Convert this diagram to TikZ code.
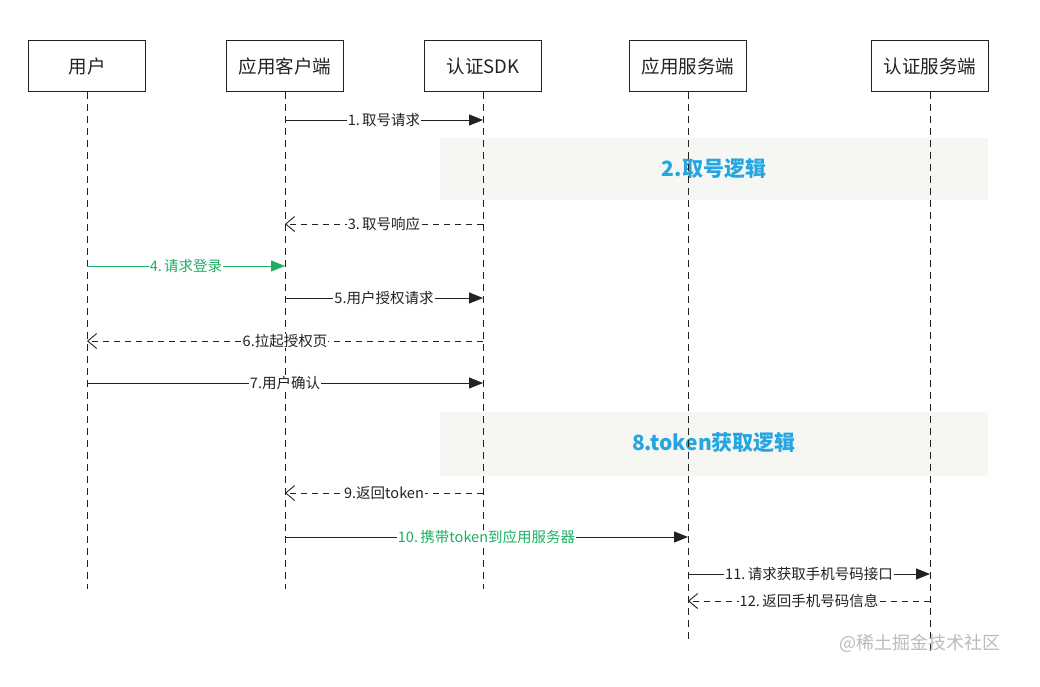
\documentclass[tikz,border=0pt]{standalone}
\usepackage{fontspec}
\setmainfont{Noto Sans CJK SC}
\usetikzlibrary{arrows.meta}
\definecolor{msggreen}{HTML}{1DAF62}
\definecolor{bandblue}{HTML}{25A6E2}
\definecolor{bandfill}{HTML}{F6F6F2}
\definecolor{ink}{HTML}{222222}
\definecolor{wm}{HTML}{BBBBBB}
\tikzset{
  actor/.style={draw=ink, line width=0.9pt, minimum width=117pt, minimum height=51pt, inner sep=0pt, font=\fontsize{18.5}{20}\selectfont, text=ink},
  life/.style={draw=ink, line width=0.9pt, dash pattern=on 7pt off 5pt},
  msg/.style={draw=ink, line width=1pt, -{Triangle[length=14pt,width=11pt]}},
  reply/.style={draw=ink, line width=1pt, dash pattern=on 6pt off 5pt, -{Straight Barb[length=9pt,width=15pt,line width=0.9pt]}},
  greenmsg/.style={draw=msggreen, line width=1pt, -{Triangle[length=14pt,width=11pt]}},
  lbl/.style={fill=white, inner xsep=1pt, inner ysep=0pt, font=\fontsize{14.5}{16}\selectfont, text=ink},
  glbl/.style={lbl, text=msggreen},
  band/.style={fill=bandfill, draw=none},
  bandtext/.style={font=\fontsize{21}{24}\selectfont\bfseries, text=bandblue}
}
\begin{document}
\begin{tikzpicture}[x=1pt,y=-1pt]
\useasboundingbox[fill=white] (0,0) rectangle (1040,686);

% participants
\node[actor] (user)   at (87,66)  {用户};
\node[actor] (client) at (285,66) {应用客户端};
\node[actor] (sdk)    at (483,66) {认证SDK};
\node[actor] (server) at (688,66) {应用服务端};
\node[actor] (auth)   at (930,66) {认证服务端};

% bands
\node[band, minimum width=548pt, minimum height=62pt, inner sep=0pt] (band1) at (714,169) {};
\node[bandtext] (band1t) at (714,169) {2.取号逻辑};
\node[band, minimum width=548pt, minimum height=64pt, inner sep=0pt] (band2) at (714,444) {};
\node[bandtext] (band2t) at (714,443) {8.token获取逻辑};

% lifeline ends
\coordinate (userEnd)   at (87,589);
\coordinate (clientEnd) at (285,589);
\coordinate (sdkEnd)    at (483,589);
\coordinate (serverEnd) at (688,643);
\coordinate (authEnd)   at (930,653);
\draw[life] (user.south)   -- (userEnd);
\draw[life] (client.south) -- (clientEnd);
\draw[life] (sdk.south)    -- (sdkEnd);
\draw[life] (server.south) -- (serverEnd);
\draw[life] (auth.south)   -- (authEnd);

% messages
\draw[msg] (client.south |- 0,120) -- node[lbl] {1.\,取号请求} (sdk.south |- 0,120);
\draw[reply] (sdk.south |- 0,224) -- node[lbl] {3.\,取号响应} (client.south |- 0,224);
\draw[greenmsg] (user.south |- 0,266) -- node[glbl] {4.\,请求登录} (client.south |- 0,266);
\draw[msg] (client.south |- 0,298) -- node[lbl] {5.用户授权请求} (sdk.south |- 0,298);
\draw[reply] (sdk.south |- 0,341) -- node[lbl] {6.拉起授权页} (user.south |- 0,341);
\draw[msg] (user.south |- 0,383) -- node[lbl] {7.用户确认} (sdk.south |- 0,383);
\draw[reply] (sdk.south |- 0,493) -- node[lbl] {9.返回token} (client.south |- 0,493);
\draw[msg] (client.south |- 0,537) -- node[glbl] {10.\,携带token到应用服务器} (server.south |- 0,537);
\draw[msg] (server.south |- 0,574) -- node[lbl] {11.\,请求获取手机号码接口} (auth.south |- 0,574);
\draw[reply] (auth.south |- 0,601) -- node[lbl] {12.\,返回手机号码信息} (server.south |- 0,601);

% watermark
\node[text=wm, font=\fontsize{18}{20}\selectfont, inner sep=0pt] (wmark) at (920,643) {@稀土掘金技术社区};
\end{tikzpicture}
\end{document}
